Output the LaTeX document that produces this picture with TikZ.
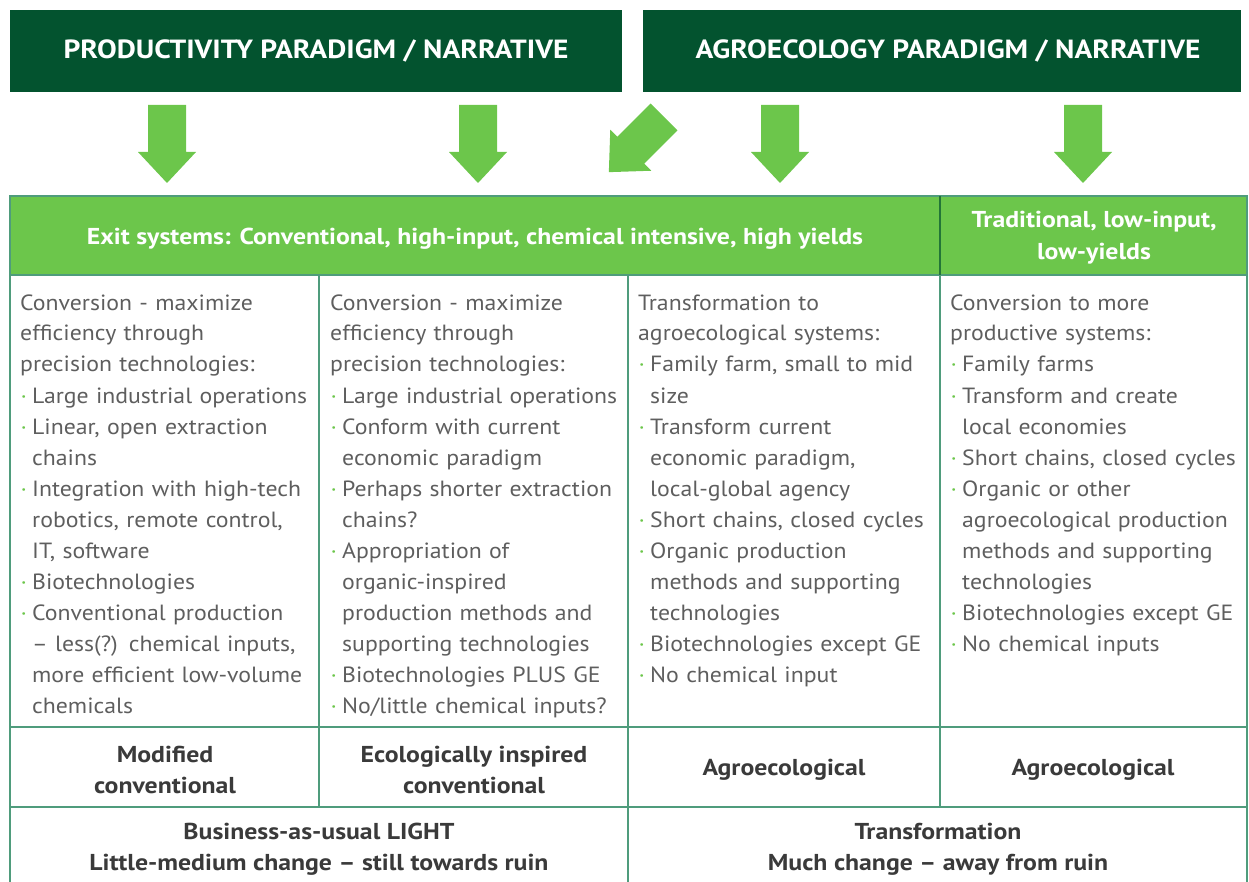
\documentclass[tikz,border=0pt]{standalone}
\usepackage{fontspec}
\setmainfont{PT Sans}
\newfontfamily\bodyf[FakeStretch=1.08,Ligatures=TeX]{PT Sans}
\newfontfamily\boldf[FakeStretch=1.12,Ligatures=TeX]{PT Sans}
\definecolor{dg}{HTML}{03532F}
\definecolor{lg}{HTML}{6CC64B}
\definecolor{ln}{HTML}{4F9C7C}
\definecolor{tx}{HTML}{5E5E5E}
\definecolor{bt}{HTML}{3A3A3A}
\newcommand\bu{\makebox[12pt][l]{\hspace{0.5pt}\textcolor{lg}{·}}}
\newcommand\ci{\hspace*{12pt}}
\tikzset{
  head/.style={fill=dg,draw=none},
  headtext/.style={text=white,font=\boldf\fontsize{26.3}{30}\selectfont\bfseries,inner sep=0pt},
  greentext/.style={text=white,font=\boldf\fontsize{23}{32}\selectfont\bfseries,inner sep=0pt,align=center},
  body/.style={text=tx,font=\bodyf\fontsize{22}{31}\selectfont,inner sep=0pt,align=left,text width=305pt},
  lab/.style={text=bt,font=\boldf\fontsize{23}{31}\selectfont\bfseries,inner sep=0pt,align=center},
  grid/.style={draw=ln,line width=1.8pt},
  pics/blockarrow/.style={code={
    \fill[lg] (-19,0) -- (19,0) -- (19,47) -- (29,47) -- (0,78) -- (-29,47) -- (-19,47) -- cycle;}}
}
\begin{document}
\begin{tikzpicture}[x=1pt,y=-1pt]
\useasboundingbox (0,0) rectangle (1249,882);
% headers
\fill[head] (10,10) rectangle (622,92);
\fill[head] (643,10) rectangle (1241,92);
\node[headtext] (h1) at (316,51) {PRODUCTIVITY PARADIGM / NARRATIVE};
\node[headtext] (h2) at (948,51) {AGROECOLOGY PARADIGM / NARRATIVE};
% arrows
\pic at (167,105) {blockarrow};
\pic at (478,105) {blockarrow};
\pic[rotate=-45] at (664,117) {blockarrow};
\pic at (780,105) {blockarrow};
\pic at (1083,105) {blockarrow};
% table
\fill[lg] (10,196) rectangle (1247,275);
\draw[grid] (10,882) -- (10,196) -- (1247,196) -- (1247,882);
\draw[grid] (10,275) -- (1247,275);
\draw[grid] (10,727) -- (1247,727);
\draw[grid] (10,807) -- (1247,807);
\draw[grid] (319,275) -- (319,807);
\draw[grid] (628,275) -- (628,882);
\draw[grid] (940,275) -- (940,807);
\draw[draw=dg!70!lg,line width=1.8pt] (940,196) -- (940,275);
% green row texts
\node[greentext] (g1) at (475,239) {Exit systems: Conventional, high-input, chemical intensive, high yields};
\node[greentext] (g2) at (1094,238) {Traditional, low-input,\\low-yields};
% body
\node[body,anchor=base west] (b1) at (20,310) {Conversion - maximize\\
efficiency through\\
precision technologies:\\
\bu Large industrial operations\\
\bu Linear, open extraction\\
\ci chains\\
\bu Integration with high-tech\\
\ci robotics, remote control,\\
\ci IT, software\\
\bu Biotechnologies\\
\bu Conventional production\\
\ci – less(?) chemical inputs,\\
\ci more efficient low-volume\\
\ci chemicals};
\node[body,anchor=base west] (b2) at (330,310) {Conversion - maximize\\
efficiency through\\
precision technologies:\\
\bu Large industrial operations\\
\bu Conform with current\\
\ci economic paradigm\\
\bu Perhaps shorter extraction\\
\ci chains?\\
\bu Appropriation of\\
\ci organic-inspired\\
\ci production methods and\\
\ci supporting technologies\\
\bu Biotechnologies PLUS GE\\
\bu No/little chemical inputs?};
\node[body,anchor=base west] (b3) at (638,310) {Transformation to\\
agroecological systems:\\
\bu Family farm, small to mid\\
\ci size\\
\bu Transform current\\
\ci economic paradigm,\\
\ci local-global agency\\
\bu Short chains, closed cycles\\
\bu Organic production\\
\ci methods and supporting\\
\ci technologies\\
\bu Biotechnologies except GE\\
\bu No chemical input};
\node[body,anchor=base west] (b4) at (950,310) {Conversion to more\\
productive systems:\\
\bu Family farms\\
\bu Transform and create\\
\ci local economies\\
\bu Short chains, closed cycles\\
\bu Organic or other\\
\ci agroecological production\\
\ci methods and supporting\\
\ci technologies\\
\bu Biotechnologies except GE\\
\bu No chemical inputs};
% labels
\node[lab] (l1) at (165,770) {Modified\\conventional};
\node[lab] (l2) at (474,770) {Ecologically inspired\\conventional};
\node[lab] (l3) at (784,770) {Agroecological};
\node[lab] (l4) at (1093,770) {Agroecological};
\node[lab] (f1) at (319,849) {Business-as-usual LIGHT\\Little-medium change – still towards ruin};
\node[lab] (f2) at (938,849) {Transformation\\Much change – away from ruin};
\end{tikzpicture}
\end{document}
